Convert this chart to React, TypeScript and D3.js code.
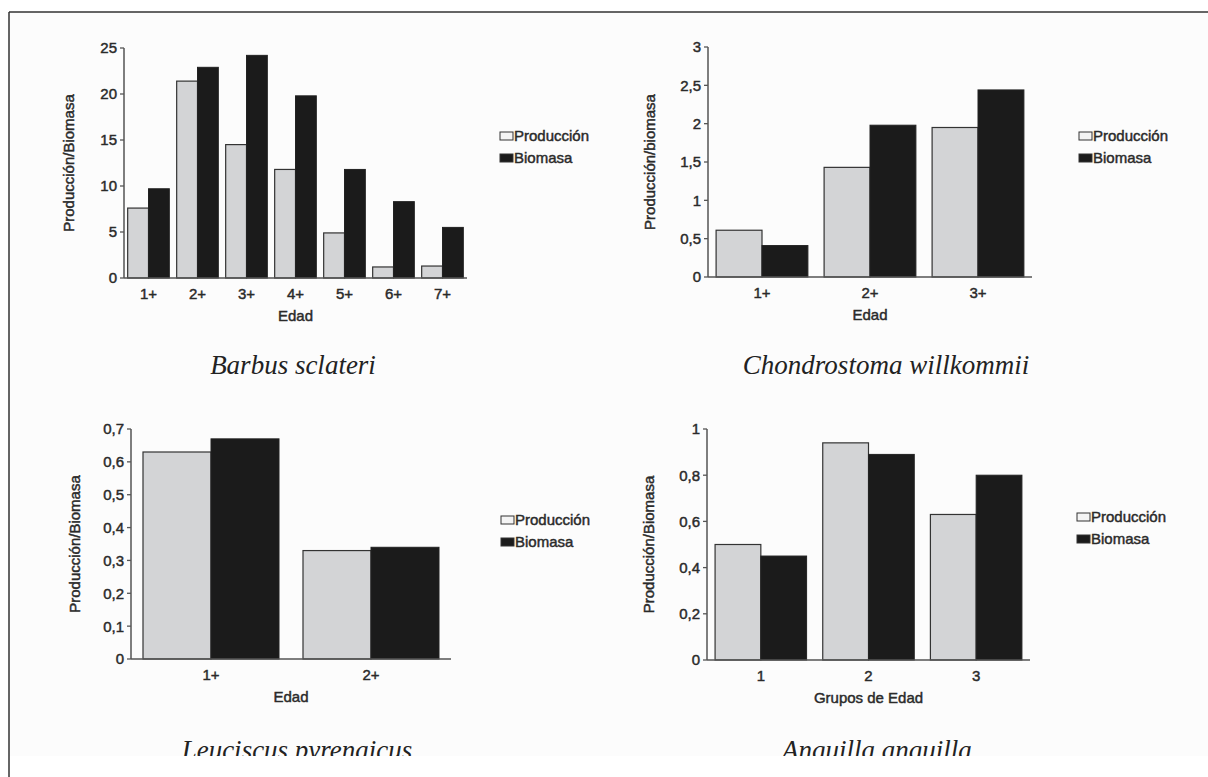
import React from "react";
import * as d3 from "d3";

// ---------- data ----------
const barbusAges = ["1+", "2+", "3+", "4+", "5+", "6+", "7+"];
const barbusProduccion = [7.6, 21.4, 14.5, 11.8, 4.9, 1.2, 1.3];
const barbusBiomasa = [9.7, 22.9, 24.2, 19.8, 11.8, 8.3, 5.5];
const barbusTicks = [0, 5, 10, 15, 20, 25];

const chondroAges = ["1+", "2+", "3+"];
const chondroProduccion = [0.61, 1.43, 1.95];
const chondroBiomasa = [0.41, 1.98, 2.44];
const chondroTicks = [0, 0.5, 1, 1.5, 2, 2.5, 3];

const leucAges = ["1+", "2+"];
const leucProduccion = [0.63, 0.33];
const leucBiomasa = [0.67, 0.34];
const leucTicks = [0, 0.1, 0.2, 0.3, 0.4, 0.5, 0.6, 0.7];

const anguillaGroups = ["1", "2", "3"];
const anguillaProduccion = [0.5, 0.94, 0.63];
const anguillaBiomasa = [0.45, 0.89, 0.8];
const anguillaTicks = [0, 0.2, 0.4, 0.6, 0.8, 1];

const seriesNames = ["Producción", "Biomasa"];

// ---------- layout ----------
type Panel = {
  cats: string[];
  prod: number[];
  bio: number[];
  ticks: number[];
  x0: number;
  x1: number;
  yTop: number;
  yBase: number;
  yTitle: string;
  yTitleX: number;
  xTitle: string;
  species: string;
  speciesX: number;
  speciesY: number;
  legendX: number;
  legendY: number;
};

const panels: Panel[] = [
  {
    cats: barbusAges, prod: barbusProduccion, bio: barbusBiomasa, ticks: barbusTicks,
    x0: 124, x1: 467, yTop: 48, yBase: 278,
    yTitle: "Producción/Biomasa", yTitleX: 69, xTitle: "Edad",
    species: "Barbus sclateri", speciesX: 293, speciesY: 374,
    legendX: 500, legendY: 136,
  },
  {
    cats: chondroAges, prod: chondroProduccion, bio: chondroBiomasa, ticks: chondroTicks,
    x0: 708, x1: 1032, yTop: 47, yBase: 277,
    yTitle: "Producción/biomasa", yTitleX: 650, xTitle: "Edad",
    species: "Chondrostoma willkommii", speciesX: 886, speciesY: 374,
    legendX: 1079, legendY: 136,
  },
  {
    cats: leucAges, prod: leucProduccion, bio: leucBiomasa, ticks: leucTicks,
    x0: 131, x1: 451, yTop: 429, yBase: 659,
    yTitle: "Producción/Biomasa", yTitleX: 75, xTitle: "Edad",
    species: "Leuciscus pyrenaicus", speciesX: 297, speciesY: 759,
    legendX: 501, legendY: 520,
  },
  {
    cats: anguillaGroups, prod: anguillaProduccion, bio: anguillaBiomasa, ticks: anguillaTicks,
    x0: 707, x1: 1030, yTop: 429, yBase: 660,
    yTitle: "Producción/Biomasa", yTitleX: 649, xTitle: "Grupos de Edad",
    species: "Anguilla anguilla", speciesX: 877, speciesY: 759,
    legendX: 1077, legendY: 517,
  },
];

const SANS = "'Liberation Sans', Arial, sans-serif";
const SERIF = "'Liberation Serif', 'Times New Roman', serif";
const TXT = "#2a2a2a";
const FS = 15;
const PROD_FILL = "#d3d4d6";
const BIO_FILL = "#1b1b1b";
const fmt = (v: number) => String(+v.toFixed(2)).replace(".", ",");

const textStyle = {
  fontFamily: SANS,
  fontSize: FS,
  fill: TXT,
  stroke: TXT,
  strokeWidth: 0.45,
} as const;

function ChartPanel({ p }: { p: Panel }) {
  const maxT = p.ticks[p.ticks.length - 1];
  const y = d3.scaleLinear().domain([0, maxT]).range([p.yBase, p.yTop]);
  const x = d3.scaleBand<string>().domain(p.cats).range([p.x0, p.x1]).paddingInner(0.15).paddingOuter(0.075);
  const sub = d3.scaleBand<string>().domain(seriesNames).range([0, x.bandwidth()]);
  const midX = (p.x0 + p.x1) / 2;
  const midY = (p.yTop + p.yBase) / 2;
  return (
    <g>
      {p.cats.map((c, i) => (
        <g key={c}>
          <rect
            x={(x(c) as number) + (sub("Producción") as number)}
            y={y(p.prod[i])}
            width={sub.bandwidth()}
            height={p.yBase - y(p.prod[i])}
            fill={PROD_FILL}
            stroke="#333"
            strokeWidth={1.2}
          />
          <rect
            x={(x(c) as number) + (sub("Biomasa") as number)}
            y={y(p.bio[i])}
            width={sub.bandwidth()}
            height={p.yBase - y(p.bio[i])}
            fill={BIO_FILL}
            stroke="#222"
            strokeWidth={1}
          />
        </g>
      ))}
      <line x1={p.x0} x2={p.x0} y1={p.yTop} y2={p.yBase} stroke="#555" strokeWidth={1.5} />
      {p.ticks.map((t) => (
        <g key={t}>
          <line x1={p.x0 - 4} x2={p.x0} y1={y(t)} y2={y(t)} stroke="#555" strokeWidth={1.3} />
          <text x={p.x0 - 7} y={y(t)} dy="0.36em" textAnchor="end" style={textStyle}>
            {fmt(t)}
          </text>
        </g>
      ))}
      <line x1={p.x0} x2={p.x1} y1={p.yBase} y2={p.yBase} stroke="#555" strokeWidth={1.5} />
      {p.cats.map((c) => (
        <text key={c} x={(x(c) as number) + x.bandwidth() / 2} y={p.yBase + 21} textAnchor="middle" style={textStyle}>
          {c}
        </text>
      ))}
      <text x={midX} y={p.yBase + 43} textAnchor="middle" style={textStyle}>
        {p.xTitle}
      </text>
      <text transform={`translate(${p.yTitleX},${midY}) rotate(-90)`} dy="0.36em" textAnchor="middle" style={textStyle}>
        {p.yTitle}
      </text>
      {seriesNames.map((s, i) => (
        <g key={s}>
          <rect x={p.legendX} y={p.legendY + i * 22 - 4} width={13} height={8} fill={i === 0 ? "#f4f4f4" : BIO_FILL} stroke="#333" strokeWidth={1} />
          <text x={p.legendX + 14} y={p.legendY + i * 22} dy="0.36em" style={textStyle}>
            {s}
          </text>
        </g>
      ))}
      <text x={p.speciesX} y={p.speciesY} textAnchor="middle" fontFamily={SERIF} fontStyle="italic" fontSize={27} fill="#222" clipPath="url(#pageClip)">
        {p.species}
      </text>
    </g>
  );
}

export default function App() {
  return (
    <svg width={1208} height={777} style={{ position: "absolute", left: 0, top: 0, background: "#ffffff" }}>
      <defs>
        <clipPath id="pageClip">
          <rect x={0} y={0} width={1208} height={756} />
        </clipPath>
      </defs>
      <rect x={9} y={12} width={1199} height={744} fill="#fcfcfc" />
      {panels.map((p, i) => (
        <ChartPanel key={i} p={p} />
      ))}
      <line x1={9} x2={1208} y1={12} y2={12} stroke="#333" strokeWidth={1.5} />
      <line x1={9} x2={9} y1={12} y2={777} stroke="#333" strokeWidth={1.5} />
    </svg>
  );
}
